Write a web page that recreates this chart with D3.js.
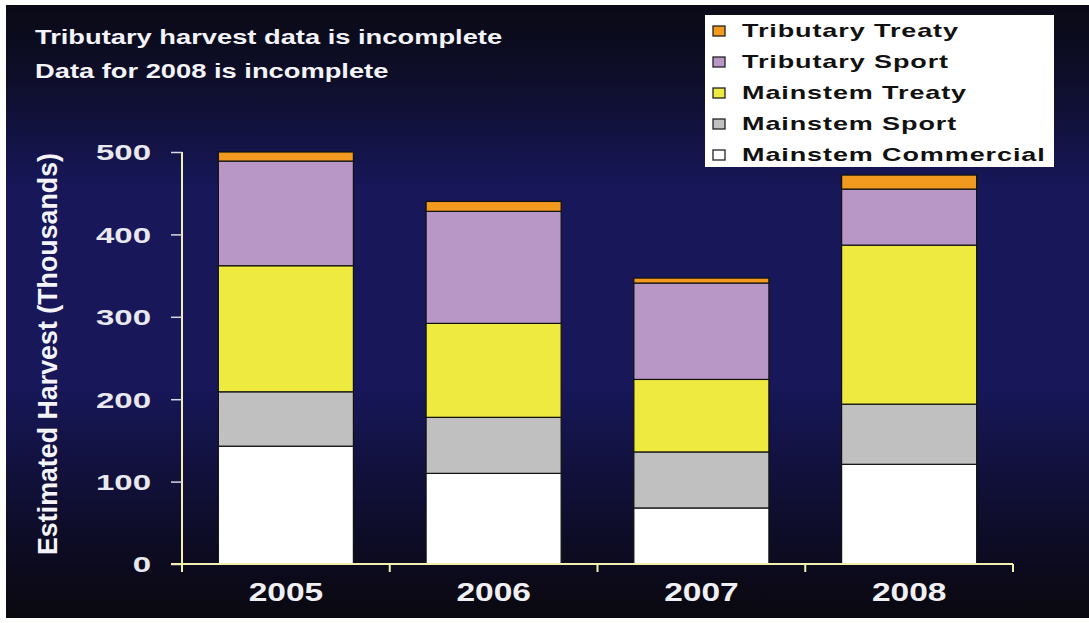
<!DOCTYPE html>
<html><head><meta charset="utf-8">
<script src="https://cdn.jsdelivr.net/npm/d3@7"></script>
<style>html,body{margin:0;padding:0;background:#fff;}svg{display:block;}</style>
</head><body>
<script>
const years = ["2005","2006","2007","2008"];
const seriesNames = ["Mainstem Commercial","Mainstem Sport","Mainstem Treaty","Tributary Sport","Tributary Treaty"];
const mainstemCommercial = [143,110,68,121];
const mainstemSport = [66,68,68,73];
const mainstemTreaty = [153,114,88,193];
const tributarySport = [127,136,117,68];
const tributaryTreaty = [11,12,6,17];
const yTicks = [0,100,200,300,400,500];
const colors = ["#ffffff","#c0c0c0","#eeea40","#b896c6","#f29a1f"];
const notes = ["Tributary harvest data is incomplete","Data for 2008 is incomplete"];

const W=1089,H=623;
const FONT="Liberation Sans, Arial, sans-serif";
const svg=d3.select("body").append("svg").attr("width",W).attr("height",H);
const defs=svg.append("defs");
const g=defs.append("linearGradient").attr("id","bg").attr("x1",0).attr("y1",0).attr("x2",0).attr("y2",1);
[[0,"#0a0a16"],[0.12,"#0e0e2a"],[0.3,"#17175a"],[0.62,"#17175a"],[0.85,"#0e0d2a"],[1,"#0a080e"]].forEach(d=>g.append("stop").attr("offset",d[0]).attr("stop-color",d[1]));
svg.append("rect").attr("x",6).attr("y",5).attr("width",W-6).attr("height",613).attr("fill","url(#bg)");

const rows=years.map((y,i)=>({year:y,"Mainstem Commercial":mainstemCommercial[i],"Mainstem Sport":mainstemSport[i],"Mainstem Treaty":mainstemTreaty[i],"Tributary Sport":tributarySport[i],"Tributary Treaty":tributaryTreaty[i]}));
const stack=d3.stack().keys(seriesNames)(rows);

const x=d3.scaleBand().domain(years).range([182,1013]).paddingInner(0.35).paddingOuter(0.175);
const y=d3.scaleLinear().domain([0,500]).range([564,152]);

// bars
svg.append("g").selectAll("g").data(stack).join("g").attr("fill",(d,i)=>colors[i])
 .selectAll("rect").data(d=>d).join("rect")
 .attr("x",d=>x(d.data.year)).attr("width",x.bandwidth())
 .attr("y",d=>y(d[1])).attr("height",d=>y(d[0])-y(d[1]))
 .attr("stroke","#111").attr("stroke-width",1.2);

// y axis
const ya=svg.append("g").attr("transform","translate(182,0)").call(d3.axisLeft(y).tickValues(yTicks).tickSize(11));
ya.select(".domain").attr("stroke","#f2f0b0").attr("stroke-width",2).attr("d","M0,152V572");
ya.selectAll(".tick line").attr("stroke","#d8d8e0").attr("stroke-width",1.5);
ya.selectAll(".tick text").attr("x",0).attr("fill","#e8e8ee").attr("font-family",FONT).attr("font-weight","bold")
 .attr("font-size",22).attr("dy","0.36em").attr("transform","translate(-31,0) scale(1.5,1)");

// x axis
const xa=svg.append("g").attr("transform","translate(0,564)");
xa.append("line").attr("x1",171).attr("x2",1013).attr("y1",0).attr("y2",0).attr("stroke","#f2f0b0").attr("stroke-width",2);
const bounds=years.map(yr=>x(yr)+x.bandwidth()+x.step()*x.paddingInner()/2);
xa.selectAll("line.t").data(bounds).join("line").attr("class","t")
 .attr("x1",d=>d).attr("x2",d=>d).attr("y1",0).attr("y2",8).attr("stroke","#f2f0b0").attr("stroke-width",2);
xa.selectAll("text").data(years).join("text")
 .attr("transform",d=>`translate(${x(d)+x.bandwidth()/2},37) scale(1.34,1)`).attr("text-anchor","middle")
 .attr("fill","#f0f0f4").attr("font-family",FONT).attr("font-weight","bold").attr("font-size",25).text(d=>d);

// y label
svg.append("text").attr("transform","translate(57,354) rotate(-90)").attr("text-anchor","middle")
 .attr("fill","#f4f4f8").attr("font-family","Liberation Sans Narrow, Arial Narrow, sans-serif").attr("font-weight","bold").attr("font-size",28)
 .attr("textLength",402).attr("lengthAdjust","spacingAndGlyphs")
 .text("Estimated Harvest (Thousands)");

// notes
svg.selectAll("text.note").data(notes).join("text").attr("class","note")
 .attr("transform",(d,i)=>`translate(35,${44+i*34}) scale(1.3,1)`).attr("fill","#f4f4f8")
 .attr("font-family",FONT).attr("font-weight","bold").attr("font-size",21).text(d=>d);

// legend
const lg=svg.append("g");
lg.append("rect").attr("x",705).attr("y",15).attr("width",349).attr("height",152).attr("fill","#ffffff");
const legItems=seriesNames.slice().reverse();
const legColors=colors.slice().reverse();
const li=lg.selectAll("g.item").data(legItems).join("g").attr("class","item")
 .attr("transform",(d,i)=>`translate(713,${31+i*31})`);
li.append("rect").attr("x",0).attr("y",-5).attr("width",12).attr("height",10)
 .attr("fill",(d,i)=>legColors[i]).attr("stroke","#222").attr("stroke-width",1.3);
li.append("text").attr("transform","translate(29,0) scale(1.5,1)").attr("dy","0.36em").attr("fill","#111")
 .attr("font-family",FONT).attr("font-weight","bold").attr("font-size",18)
 .attr("letter-spacing",0.6).text(d=>d);
</script>
</body></html>
